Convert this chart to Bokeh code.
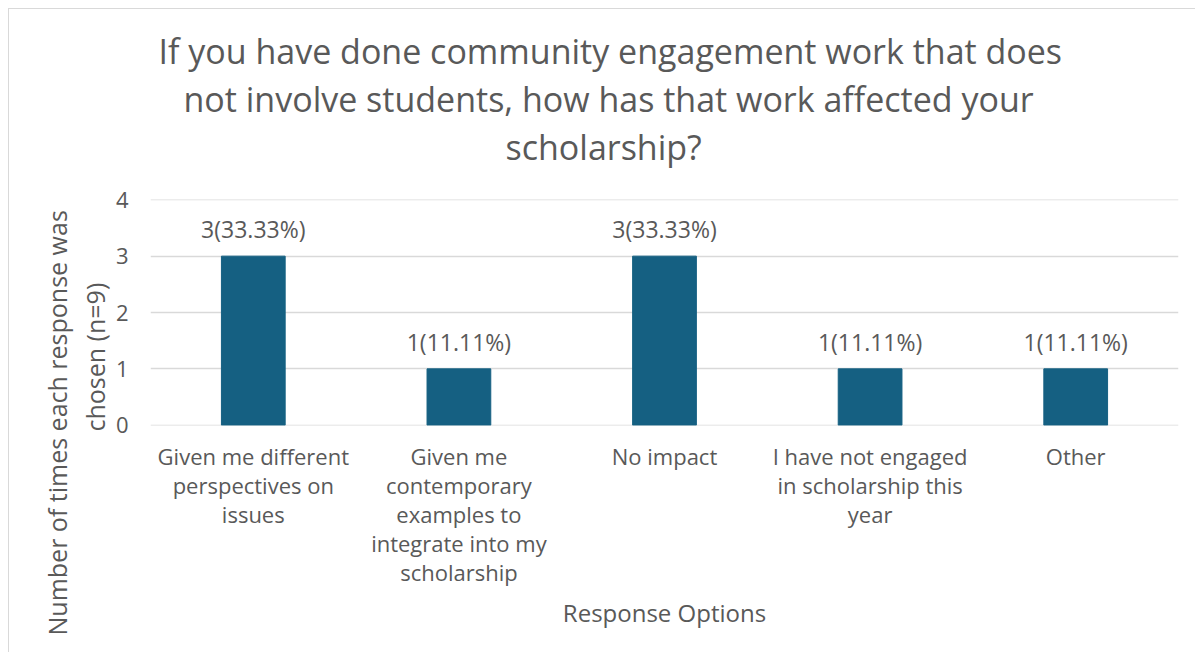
from bokeh.plotting import figure
from bokeh.models import (ColumnDataSource, FactorRange, Range1d, LabelSet, Title,
                          CategoricalAxis, CustomJSTickFormatter)
from bokeh.core.properties import value
from bokeh.embed import file_html
from bokeh.resources import INLINE

# ---- data ----
categories = [
    "Given me different perspectives on issues",
    "Given me contemporary examples to integrate into my scholarship",
    "No impact",
    "I have not engaged in scholarship this year",
    "Other",
]
wrapped_labels = [
    "Given me different\nperspectives on\nissues",
    "Given me\ncontemporary\nexamples to\nintegrate into my\nscholarship",
    "No impact",
    "I have not engaged\nin scholarship this\nyear",
    "Other",
]
counts = [3, 1, 3, 1, 1]
data_labels = ["3(33.33%)", "1(11.11%)", "3(33.33%)", "1(11.11%)", "1(11.11%)"]
y_ticks = [0, 1, 2, 3, 4]
title_lines = [
    "If you have done community engagement work that does",
    "not involve students, how has that work affected your",
    "scholarship?",
]
y_title_lines = ["Number of times each response was", "chosen (n=9)"]
x_title = "Response Options"

# ---- style ----
W, H = 1187, 644
FONT = "Open Sans"
GREY = "#595959"
BAR = "#156082"
GRID = "#d9d9d9"

src = ColumnDataSource(dict(cat=categories, val=counts, lab=data_labels))

p = figure(
    width=W, height=H,
    x_range=FactorRange(*categories, range_padding=0),
    y_range=Range1d(-0.005, 4.005),
    output_backend="svg", toolbar_location=None,
    min_border_left=141, min_border_right=18,
    min_border_top=190, min_border_bottom=228,
)
p.styles = {"margin-left": "8px", "margin-top": "8px",
            "border-left": "1px solid #d9d9d9", "border-top": "1px solid #d9d9d9"}
p.outline_line_color = None
p.xgrid.grid_line_color = None
p.ygrid.grid_line_color = GRID
p.ygrid.grid_line_width = 1.5
p.ygrid.ticker = y_ticks

p.vbar(x="cat", top="val", width=0.31, source=src, fill_color=BAR, line_color=BAR)

p.add_layout(LabelSet(x="cat", y="val", text="lab", source=src, y_offset=18,
                      text_align="center", text_baseline="alphabetic",
                      text_font=value(FONT), text_font_size="23px",
                      text_color=GREY))

# y axis
p.yaxis.ticker = y_ticks
p.yaxis.axis_line_color = None
p.yaxis.major_tick_line_color = None
p.yaxis.minor_tick_line_color = None
p.yaxis.major_tick_out = 0
p.yaxis.major_label_standoff = 22
p.yaxis.major_label_text_font_size = "22px"
p.yaxis.major_label_text_color = GREY
p.yaxis.major_label_text_font = FONT

# x axis: one axis per text line of the wrapped category labels
split = [w.split("\n") for w in wrapped_labels]
n_lines = max(len(s) for s in split)
axes = [p.xaxis[0]]
for i in range(1, n_lines):
    ax = CategoricalAxis()
    p.add_layout(ax, "below")
    axes.append(ax)
for i, ax in enumerate(axes):
    line_i = [s[i] if i < len(s) else "" for s in split]
    ax.formatter = CustomJSTickFormatter(
        args=dict(cats=categories, lines=line_i),
        code="const i = cats.indexOf(tick); return i >= 0 ? lines[i] : '';")
    ax.axis_line_color = None
    ax.major_tick_line_color = None
    ax.major_tick_out = 0
    ax.major_tick_in = 0
    ax.major_label_standoff = 15 if i == 0 else -4
    ax.major_label_text_font_size = "22px"
    ax.major_label_text_font = FONT
    ax.major_label_text_color = GREY

# x title
p.add_layout(Title(text=x_title, align="center", text_font=FONT, text_font_size="24px",
                   text_color=GREY, text_font_style="normal", standoff=9), "below")

# spacer between plot area and chart title
p.add_layout(Title(text=" ", text_font_size="25px", standoff=0), "above")
# chart title (added nearest-first), left-aligned with offsets so lines centre on the chart
for t, off in zip(reversed(title_lines), [355, 33, 8]):
    p.add_layout(Title(text=t, align="left", offset=off, standoff=0,
                       text_font=FONT, text_font_size="34px", text_color=GREY,
                       text_font_style="normal"), "above")

# y title (added nearest-first)
for t, off in zip(reversed(y_title_lines), [-6, -210]):
    p.add_layout(Title(text=t, align="left", offset=off, standoff=2,
                       text_font=FONT, text_font_size="25px", text_color=GREY,
                       text_font_style="normal"), "left")

open("out.html", "w").write(file_html(p, INLINE))
